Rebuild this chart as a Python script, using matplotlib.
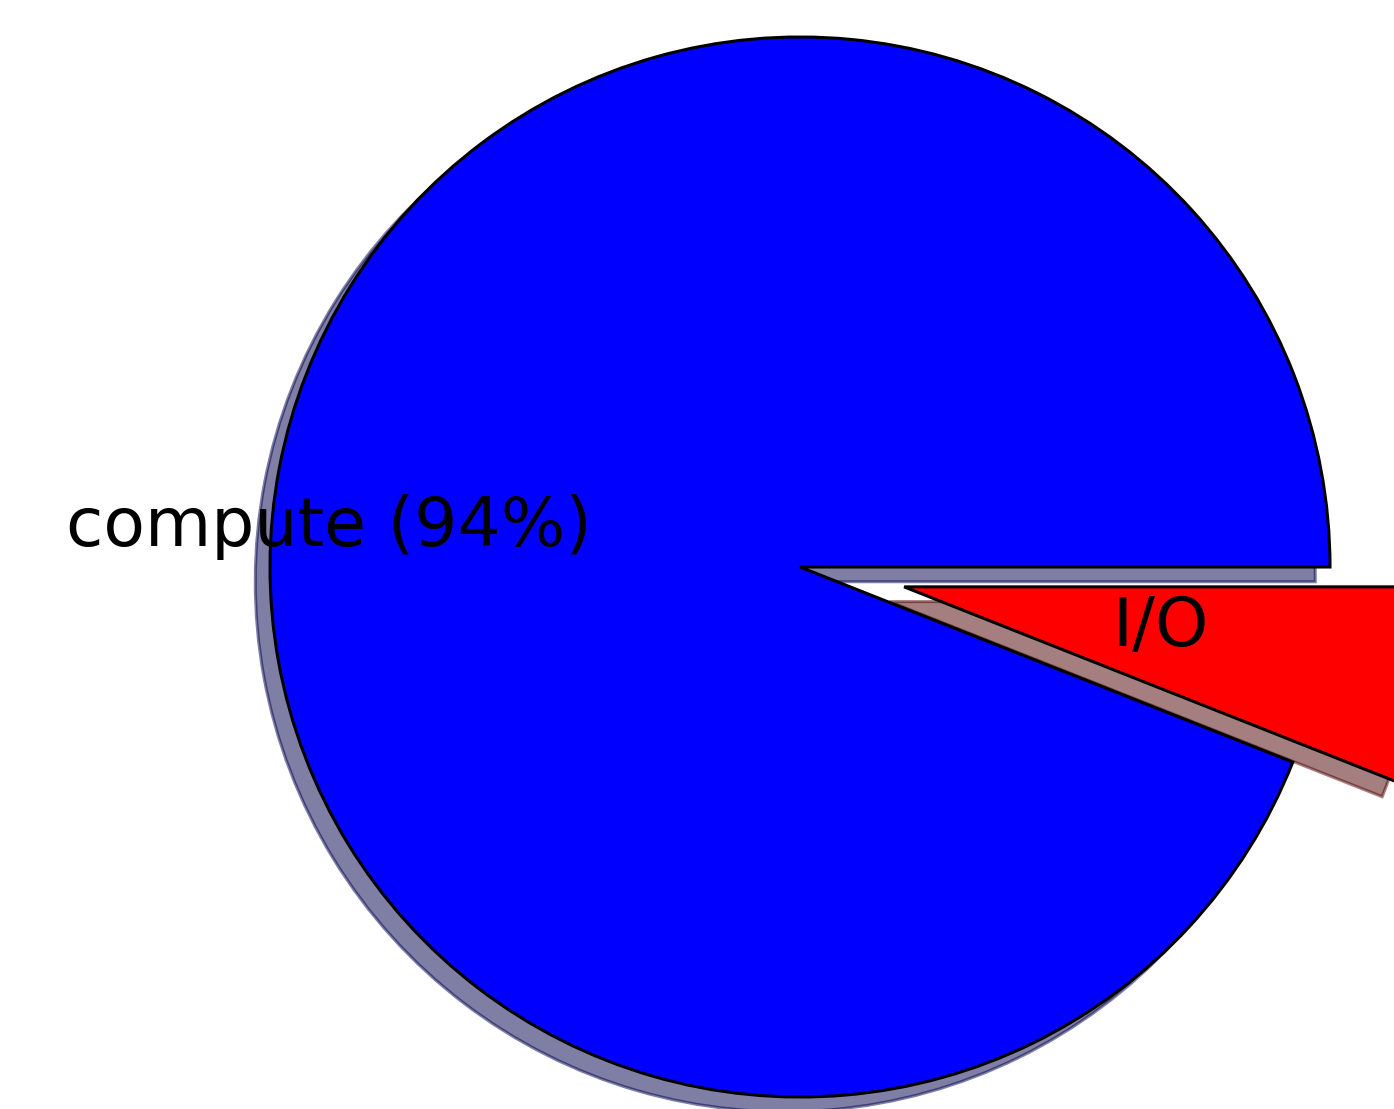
import matplotlib
matplotlib.use('Agg')
import matplotlib.pyplot as plt

labels = ['compute (94%)', 'I/O']
sizes = [94, 6]
colors = ['blue', 'red']
explode = [0, 0.2]

fig = plt.figure(figsize=(13.94, 11.09), dpi=100)
ax = fig.add_axes([0, 0, 1, 1])

ax.pie(sizes, labels=labels, colors=colors, explode=explode, shadow=True,
       labeldistance=0.4, startangle=0,
       wedgeprops=dict(edgecolor='black', linewidth=2.2),
       textprops=dict(fontsize=49))

# keep the pie where it sits in the reference (radius 1 = 530 px)
ax.set_xlim(-800 / 530, (1394 - 800) / 530)
ax.set_ylim(-(1109 - 567) / 530, 567 / 530)
ax.axis('off')

plt.savefig('out.png', dpi=100)
